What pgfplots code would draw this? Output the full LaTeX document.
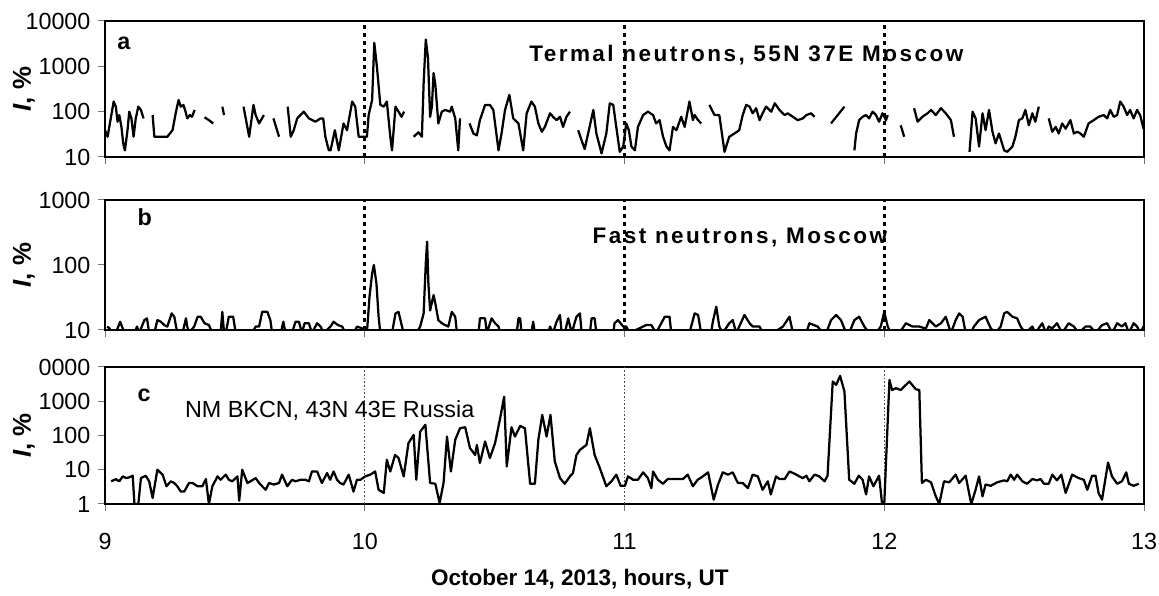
\documentclass[border=0pt]{standalone}
\usepackage{pgfplots}
\pgfplotsset{compat=1.18}
\usepackage{fontspec}
\setmainfont{Liberation Sans}
\newcommand\tf{\fontsize{14}{16.8}\selectfont}
\newcommand\lf{\fontsize{15.5}{18}\selectfont}
\tikzset{
  mydat/.style={black, line width=1.35pt, line join=round},
  myvdot/.style={black, line width=1.8pt, dash pattern=on 2.4pt off 2.4pt},
  mygrid/.style={black!70, line width=0.5pt, dash pattern=on 1pt off 1.2pt},
}
\pgfplotsset{every tick label/.append style={font=\tf}}
\begin{document}
\begin{tikzpicture}
% ---------------- panel a ----------------
\begin{axis}[at={(63pt,263.4pt)}, anchor=south west,
  scale only axis, width=623.4pt, height=81.6pt,
  xmin=0, xmax=240, ymode=log,
  ymin=10, ymax=10000, ytick={10,100,1000,10000}, yticklabels={\tf 10,\tf 100,\tf 1000,\tf 10000},
  xtick={0,60,120,180,240}, xticklabels={},
  tick align=outside, major tick length=4.2pt,
  xtick pos=bottom, ytick pos=left,
  tick style={line width=0.6pt, black!55},
  yminorticks=false,
  axis line style={line width=1.2pt},
  unbounded coords=jump,
  /pgf/number format/assume math mode=true,
  yticklabel style={xshift=-1pt},
  ylabel={\lf\textbf{\textit{I}, \%}},
  ylabel style={at={(axis description cs:-0.078,0.5)}, anchor=center}]
\addplot[myvdot] coordinates {(60,10) (60,10000)};
\addplot[myvdot] coordinates {(120,10) (120,10000)};
\addplot[myvdot] coordinates {(180,10) (180,10000)};
\addplot[mydat] coordinates {
(0,39) (0.6,28) (2.0,167) (2.5,129) (2.9,60) (3.3,84) (3.8,46) (4.2,20) (4.6,14) (5.2,39) (5.6,100) (6.1,71) (6.6,28) (7.1,71) (7.7,129) (8.3,109) (8.9,71)
(9.9,nan)
(11.0,84) (11.4,28) (14.4,28) (15.6,39) (16.4,100) (17.0,181) (17.5,129) (18.1,141) (18.5,109) (19.0,71) (19.6,84) (20.1,77) (20.7,109)
(21.9,nan)
(23.0,75) (24.0,65) (25.0,55)
(26.0,nan)
(27.1,129) (27.5,84)
(30.0,nan)
(32.0,129) (33.3,28) (34.3,141) (34.8,84) (35.6,55) (36.7,84)
(37.8,nan)
(38.9,71) (40.2,28)
(41.2,nan)
(42.2,129) (42.9,28) (43.6,39) (44.4,71) (45.9,100) (47.1,71) (48.6,60) (49.8,71) (50.4,71) (50.9,28) (51.7,14) (52.1,14) (53.1,39) (54.0,14) (55.1,55) (55.9,39) (57.1,167) (57.8,129) (58.6,28) (60.5,28) (60.9,84) (61.7,181) (62.2,3300) (62.8,1000) (63.6,141) (64.4,129) (65.1,167) (65.9,28) (66.3,14) (67.1,129) (67.8,100) (68.5,77) (69.1,100)
(70.2,nan)
(71.3,28) (72.4,35) (73.2,28) (73.6,425) (74.1,3900) (74.6,1530) (75.1,77) (75.5,129) (75.9,710) (76.3,400) (77.0,55) (77.8,100) (78.6,109) (79.7,100) (80.1,129) (80.9,71) (81.6,14) (82.0,71)
(83.1,nan)
(84.2,55) (85.1,33) (85.9,30) (86.6,65) (87.8,141) (88.9,141) (89.7,109) (90.9,14) (91.6,33) (92.4,109) (93.4,234) (94.3,71) (95.5,55) (96.6,14) (97.4,92) (98.5,167) (99.3,129) (100.1,55) (100.9,36) (101.6,46) (102.8,92) (103.5,77) (104.3,65) (105.1,77) (105.8,46) (106.6,77) (107.4,100)
(108.3,nan)
(109.3,39) (110.1,23) (110.8,15) (111.6,33) (112.8,109) (113.5,33) (114.7,12) (115.8,33) (116.6,153) (117.4,141) (118.1,46) (118.9,13) (119.7,17) (120.4,55) (121.0,39) (121.6,17) (122.4,14) (123.1,46) (124.3,84) (125.4,100) (126.6,84) (127.3,55) (128.1,65) (128.9,28) (129.7,17) (130.4,14) (131.2,46) (132.0,39) (133.1,77) (133.9,46) (135.0,167) (135.8,65) (136.2,84) (137.0,65) (137.7,55)
(138.6,nan)
(139.6,141) (140.8,84) (141.9,84) (143.1,13) (144.2,28) (145.4,33) (146.5,39) (147.3,84) (148.1,141) (148.9,129) (149.6,92) (150.4,119) (151.2,65) (151.9,92) (152.7,129) (153.9,100) (154.7,153) (155.8,109) (157.0,84) (157.7,92) (158.9,77) (160.0,65) (161.2,71) (162.0,84) (163.1,92) (163.9,77)
(165.5,nan)
(167.7,55) (170.8,129)
(172.0,nan)
(173.1,14) (173.5,33) (174.2,65) (175.0,77) (175.8,84) (176.5,71) (177.3,100) (178.1,84) (178.8,60) (179.6,92) (180.4,65) (180.8,84)
(182.3,nan)
(183.8,50) (184.6,28)
(185.8,nan)
(186.9,119) (187.7,60) (188.8,77) (190.0,92) (190.8,109) (191.9,84) (193.1,119) (194.2,92) (195.4,65) (196.1,28)
(198.0,nan)
(199.7,13) (200.4,100) (201.1,71) (201.9,17) (202.7,92) (203.4,39) (204.2,109) (205.0,36) (205.7,20) (206.5,33) (207.7,14) (208.4,13) (209.6,17) (210.3,28) (211.1,65) (211.9,71) (212.6,109) (213.4,50) (214.2,92) (214.9,60) (215.7,129)
(216.8,nan)
(218.0,71) (218.8,36) (219.6,46) (220.3,33) (221.1,55) (221.9,42) (223.0,65) (223.8,33) (224.6,36) (225.3,33) (226.1,28) (227.2,55) (228.4,65) (229.5,77) (230.7,84) (231.5,71) (232.2,109) (233.0,77) (233.8,84) (234.5,167) (235.3,129) (236.1,84) (236.8,109) (237.6,71) (238.4,109) (239.1,84) (239.9,42)
};
\node[inner sep=0pt, anchor=base west] at (axis description cs:0.0115,0.787) {\tf\bfseries a};
\node[inner sep=0pt, anchor=base west] at (axis description cs:0.408,0.70) {\fontsize{13.5}{16}\selectfont\bfseries\addfontfeature{LetterSpace=11}Termal neutrons, 55N 37E Moscow};
\end{axis}
% ---------------- panel b ----------------
\begin{axis}[at={(63pt,159.6pt)}, anchor=south west,
  scale only axis, width=623.4pt, height=78pt,
  xmin=0, xmax=240, ymode=log,
  ymin=10, ymax=1000, ytick={10,100,1000}, yticklabels={\tf 10,\tf 100,\tf 1000},
  xtick={0,60,120,180,240}, xticklabels={},
  tick align=outside, major tick length=4.2pt,
  xtick pos=bottom, ytick pos=left,
  tick style={line width=0.6pt, black!55},
  yminorticks=false,
  axis line style={line width=1.2pt},
  /pgf/number format/assume math mode=true,
  yticklabel style={xshift=-1pt},
  ylabel={\lf\textbf{\textit{I}, \%}},
  ylabel style={at={(axis description cs:-0.078,0.5)}, anchor=center}]
\addplot[myvdot] coordinates {(60,10) (60,1000)};
\addplot[myvdot] coordinates {(120,10) (120,1000)};
\addplot[myvdot] coordinates {(180,10) (180,1000)};
\addplot[mydat] coordinates {
(0.5,11.3) (1.0,10.6) (1.8,9) (2.5,9) (3.5,13.4) (4.5,9) (6.8,9) (7.4,11.3) (7.9,9) (9.1,14.2) (9.7,15.1) (10.2,9) (11.4,9) (12.1,14.2) (12.9,13.4) (13.7,11.9) (14.4,11.3) (15.4,18) (16.0,16) (16.7,9) (17.9,9) (18.7,15.1) (19.0,11.3) (19.4,9) (20.6,11.3) (21.4,16) (22.1,16) (23.0,12.7) (24.0,11.9) (24.8,9) (26.7,9) (27.1,19) (27.5,9) (27.9,9) (28.6,16) (29.6,16) (30.2,9) (34.0,9) (34.8,11.3) (35.6,11.3) (36.3,19) (37.5,19) (38.2,14.2) (38.6,9) (40.6,9) (41.2,13.4) (41.7,9) (43.2,9) (44.0,13.4) (44.8,13.4) (45.5,9) (46.1,12.7) (47.1,12.7) (47.8,9) (49.0,12.7) (49.8,11.3) (50.5,9) (52.1,11.3) (52.8,13.4) (53.8,11.9) (54.8,11.3) (55.5,9) (57.5,9) (58.2,11.3) (59.4,10.6) (59.8,9) (60.5,9) (61.1,32.6) (61.7,74) (62.1,100) (62.7,52) (63.2,16) (63.6,9)
(66.3,9) (67.1,18) (67.8,19) (68.6,11.3) (69.0,9) (72.0,9) (72.8,11.3) (73.6,18) (74.1,106) (74.4,228) (74.7,52) (75.1,20) (75.9,34.5) (76.3,25.7) (77.0,14.2) (77.8,12.7) (78.6,11.9) (79.3,11.3) (80.1,19) (80.9,16) (81.3,9) (86.3,9) (86.6,15.1) (87.8,15.1) (88.2,9) (89.3,15.1) (90.1,12.7) (90.9,11.3) (91.2,9) (95.1,9) (95.5,15.1) (95.9,15.1) (96.2,9) (98.5,9) (98.9,13.4) (99.3,9) (102.4,9) (102.8,11.3) (103.5,9) (104.3,13.4) (105.1,17) (105.5,9) (106.2,9) (107.0,15.1) (107.8,9) (108.9,16) (109.7,18) (110.1,9) (112.0,9) (112.4,15.1) (113.1,15.1) (113.5,9) (117.4,9) (117.7,12.7) (118.5,14.2) (119.7,11.3) (120.4,11.3) (121.2,9) (124.3,11.3) (125.0,11.9) (126.2,11.9) (127.3,9) (129.3,16) (130.4,16) (130.8,9) (135.0,9) (136.2,18) (137.0,17) (137.7,9) (140.0,9) (140.4,13.4) (141.2,22.8) (141.9,11.3) (142.7,9) (144.2,12.7) (145.0,14.2) (145.8,9) (146.5,11.3) (147.7,17) (148.9,12.7) (149.6,11.3) (151.2,11.3) (151.9,9)
(154.3,9) (156.6,11.3) (158.1,16) (158.9,9) (162.0,9) (162.7,12.7) (164.6,11.3) (165.8,9) (166.6,9) (167.7,14.2) (168.9,17) (170.0,14.2) (171.2,9) (171.9,9) (173.1,14.2) (174.2,16) (175.4,11.3) (176.5,9) (178.1,9) (179.2,11.3) (180.0,19) (180.8,11.3) (181.5,9) (183.5,9) (185.0,12.7) (186.5,11.3) (188.1,11.3) (189.6,10.5) (190.4,14.2) (191.9,11.3) (193.1,12.7) (194.2,16) (195.4,9) (196.5,14.2) (197.3,18) (198.1,16) (198.8,9) (200.0,9) (200.7,11.3) (201.9,14.2) (203.4,16) (204.6,10.6) (205.7,9) (206.9,11.3) (207.7,18) (208.4,19) (209.6,16) (210.7,15.1) (211.5,11.3) (212.6,9) (214.2,11.3) (214.9,9) (216.5,12.7) (217.3,9) (218.0,11.3) (218.8,10.6) (219.9,12.7) (221.1,9) (222.6,12.7) (223.8,11.3) (224.9,9) (226.5,11.3) (227.6,11.3) (228.8,9) (230.3,11.9) (231.5,12.7) (232.6,9) (233.8,12.7) (234.9,11.3) (235.7,12.7) (236.5,9) (237.6,12.7) (238.4,11.3) (239.1,9) (239.9,11.3)
};
\node[inner sep=0pt, anchor=base west] at (axis description cs:0.031,0.80) {\tf\bfseries b};
\node[inner sep=0pt, anchor=base west] at (axis description cs:0.469,0.669) {\fontsize{13.5}{16}\selectfont\bfseries\addfontfeature{LetterSpace=11}Fast neutrons, Moscow};
\end{axis}
% ---------------- panel c ----------------
\begin{axis}[at={(63pt,55.2pt)}, anchor=south west,
  scale only axis, width=623.4pt, height=82.2pt,
  xmin=0, xmax=240, ymode=log,
  ymin=1, ymax=10000, ytick={1,10,100,1000,10000}, yticklabels={\tf 1,\tf 10,\tf 100,\tf 1000,\tf 0000},
  xtick={0,60,120,180,240}, xticklabels={\tf 9,\tf 10,\tf 11,\tf 12,\tf 13},
  tick align=outside, major tick length=4.2pt,
  xtick pos=bottom, ytick pos=left,
  tick style={line width=0.6pt, black!55},
  yminorticks=false,
  axis line style={line width=1.2pt},
  /pgf/number format/assume math mode=true,
  yticklabel style={xshift=-1pt},
  xticklabel style={yshift=-10pt},
  ylabel={\lf\textbf{\textit{I}, \%}},
  ylabel style={at={(axis description cs:-0.078,0.5)}, anchor=center},
  xlabel={\fontsize{13.5}{16}\selectfont\textbf{October 14, 2013, hours, UT}},
  xlabel style={at={(axis description cs:0.457,-0.547)}, anchor=center}]
\addplot[mygrid] coordinates {(60,1) (60,10000)};
\addplot[mygrid] coordinates {(120,1) (120,10000)};
\addplot[mygrid] coordinates {(180,1) (180,10000)};
\addplot[mydat] coordinates {
(1.4,4.6) (2.5,5.3) (3.3,4.6) (4.1,6.4) (4.9,5.7) (5.6,6.0) (6.4,6.7) (6.8,1) (7.7,1) (8.3,5.7) (9.4,6.7) (10.2,4.6) (11.0,1.5) (12.1,10) (13.3,7.2) (14.2,3.3) (15.2,4.6) (16.0,4.1) (16.7,3.3) (17.5,2.3) (18.3,2.3) (19.4,4.1) (20.2,4.1) (21.4,3.3) (22.5,3.3) (23.3,5.35) (24.0,1) (24.8,3.3) (26.0,6.4) (26.7,5.1) (27.9,7.2) (28.6,5.1) (29.4,4.6) (30.6,6.4) (31.0,1.25) (31.7,10) (32.9,4.1) (33.6,4.6) (34.8,5.7) (35.6,4.1) (36.3,3.3) (37.1,2.6) (37.9,4.1) (39.0,3.7) (40.2,4.1) (40.9,7.2) (42.1,3.3) (43.2,5.1) (44.0,4.6) (45.2,5.1) (46.3,5.1) (47.1,4.6) (47.8,8.9) (49.0,8.9) (50.1,4.1) (51.3,8) (52.0,5.1) (52.8,8.9) (53.6,5.1) (54.3,4.1) (55.1,3.7) (56.3,7.2) (57.4,2.3) (58.2,5.1) (59.0,5.1) (60.1,6.4) (61.3,7.2) (62.4,8.9) (63.2,2.6) (64.4,2.1) (65.1,19.5) (65.9,8.9) (67.0,27) (67.8,22)
(69.0,6.4) (70.1,60) (71.3,104) (71.9,5.1) (72.8,130) (74.0,205) (75.1,4.1) (76.3,3.9) (77.3,1.07) (78.2,4.1) (79.0,93) (79.9,8.9) (80.9,75) (82.0,163) (83.2,175) (84.3,43) (85.5,27) (85.9,53) (86.6,15.7) (87.8,67) (88.9,22) (90.1,60) (91.2,285) (92.2,1360) (92.8,12.5) (93.9,175) (94.7,93) (95.9,191) (97.0,163) (98.2,3.9) (99.3,3.9) (100.1,75) (101.0,400) (102.0,93) (102.9,400) (103.9,17.5) (105.1,5.7) (106.2,3.9) (107.4,6.4) (108.1,8) (108.9,27) (109.7,38) (111.2,53) (112.0,163) (113.1,27) (114.3,11.2) (115.8,3.3) (117.0,4.6) (118.1,7.2) (119.1,3.4) (120.1,3.4) (120.8,6.4) (122.0,5.1) (123.1,5.1) (124.3,8.4) (125.4,5.7) (126.2,2.9) (126.6,8.9) (127.7,5.1) (128.9,3.9) (130.0,5.35) (131.2,5.35) (132.3,5.35) (133.5,5.35) (134.6,7.2) (135.8,3.3) (136.9,5.1) (138.1,6.4) (139.3,8.4) (140.6,1.34) (141.6,3.7) (142.7,8.4) (143.9,7.2) (145.0,8.4) (146.2,4.1) (147.3,4.1) (148.5,2.9) (149.6,7.2) (150.8,6.4) (151.9,2.6) (153.1,4.6) (153.8,1.9) (155.0,6.4) (155.8,5.35)
(157.0,5.35) (158.1,8.9) (159.3,7.65) (160.4,6.4) (161.2,5.7) (162.0,6.7) (162.7,4.6) (163.9,7.2) (165.0,6.4) (166.2,4.6) (166.9,6.7) (168.1,3760) (168.9,3000) (169.8,5500) (170.8,1930) (171.9,5.1) (173.1,3.9) (174.1,6.7) (175.0,5.1) (175.8,1.9) (176.5,6.4) (177.5,3.3) (178.8,6.7) (179.5,1) (180.0,1) (181.2,4200) (181.8,2130) (182.7,2400) (183.8,2130) (185.8,3760) (187.3,2230) (188.1,2130) (188.7,4.1) (189.6,5.1) (190.8,4.3) (191.9,1.67) (192.7,1) (193.8,4.6) (195.0,4.3) (196.5,7.2) (197.3,4.1) (198.8,6.7) (200.1,1) (201.1,2.6) (201.9,6.4) (202.7,1.67) (203.4,3.7) (204.6,3.4) (206.1,4.3) (207.7,4.9) (208.4,4.6) (209.2,7.2) (210.0,5.1) (210.7,7.2) (211.9,4.6) (213.0,3.9) (214.2,5.35) (215.3,4.9) (216.1,5.35) (216.9,3.9) (218.0,3.9) (218.8,7.2) (219.9,4.9) (220.9,7.2) (221.9,2.1) (223.4,7.2) (224.9,5.7) (226.1,5.1) (226.9,2.6) (228.0,6.7) (228.8,6.7) (229.5,2.1) (230.3,1.34) (231.7,16.3) (232.6,6.4) (233.8,3.9) (234.9,4.6) (235.9,8.4) (236.5,3.9) (237.6,3.4) (238.8,3.9)
};
\node[inner sep=0pt, anchor=base west] at (axis description cs:0.031,0.745) {\tf\bfseries c};
\node[inner sep=0pt, anchor=base west] at (axis description cs:0.0768,0.628) {\tf NM BKCN, 43N 43E Russia};
\end{axis}
\pgfresetboundingbox
\useasboundingbox (0,0) rectangle (695.4pt,357.6pt);
\end{tikzpicture}
\end{document}
